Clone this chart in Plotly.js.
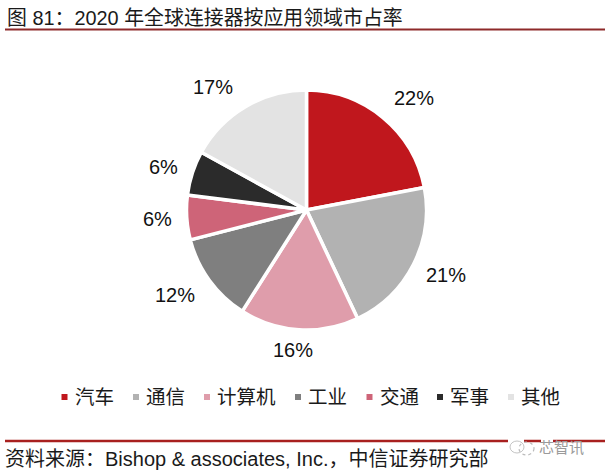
<!DOCTYPE html>
<html><head><meta charset="utf-8">
<script src="https://cdn.plot.ly/plotly-3.0.1.min.js"></script>
<style>html,body{margin:0;padding:0;background:#fff}#c{width:605px;height:474px}</style></head>
<body><div id="c"></div>
<script>
const categories = ["汽车","通信","计算机","工业","交通","军事","其他"];
const shares = [22,21,16,12,6,6,17];
const colors = ["#C0171D","#B2B2B2","#DF9DAB","#7F7F7F","#CE6478","#2B2B2B","#E3E3E3"];
const titleText = "图 81：2020 年全球连接器按应用领域市占率";
const sourceText = "资料来源：Bishop & associates, Inc.，中信证券研究部";
const watermark = "芯智讯";

const W = 605, H = 474;
const CJK = '"Liberation Sans","Noto Sans CJK SC",sans-serif';
const labelAt = [[414,98],[446,275],[293,350],[175,295],[157,219],[163,167],[213,87]];
const swatchAt = [64.5,136,207,298,369.5,440,511];
const px = x => x / W, py = y => 1 - y / H;

const annotations = [];
const txt = (text, x, y, size, color, anchor) => ({
  text, x: px(x), y: py(y), xref: 'paper', yref: 'paper', showarrow: false,
  xanchor: anchor || 'left', yanchor: 'middle',
  font: {family: CJK, size, color}
});
annotations.push(txt(titleText, 4.5, 18, 19.9, '#1a1a1a'));
annotations.push(txt(sourceText, 3, 459, 20, '#1a1a1a'));
annotations.push(txt(watermark, 537, 447, 15, '#9a9a9a'));
shares.forEach((v,i) => annotations.push(txt(v + '%', labelAt[i][0], labelAt[i][1], 20, '#111', 'center')));
categories.forEach((c,i) => annotations.push(txt(c, swatchAt[i] + 8, 397, 19.5, '#1a1a1a')));

const shapes = [
  {type:'line', xref:'paper', yref:'paper', x0:px(5), x1:1, y0:py(29.5), y1:py(29.5), line:{color:'#8E2A2A', width:2}},
  {type:'line', xref:'paper', yref:'paper', x0:px(5), x1:1, y0:py(441), y1:py(441), line:{color:'#A8201F', width:2.5}},
  {type:'rect', xref:'paper', yref:'paper', x0:px(508), x1:px(524), y0:py(439), y1:py(443), fillcolor:'#fff', line:{width:0}},
  {type:'rect', xref:'paper', yref:'paper', x0:px(541), x1:px(553), y0:py(439), y1:py(443), fillcolor:'#fff', line:{width:0}},
  {type:'circle', xref:'paper', yref:'paper', x0:px(510), x1:px(524), y0:py(441), y1:py(453), line:{color:'#c4c4c4', width:1}},
  {type:'circle', xref:'paper', yref:'paper', x0:px(519), x1:px(534), y0:py(442), y1:py(455), line:{color:'#bbbbbb', width:1.2, dash:'dot'}}
];
categories.forEach((c,i) => shapes.push({
  type:'rect', xref:'paper', yref:'paper',
  x0:px(swatchAt[i]-3), x1:px(swatchAt[i]+3), y0:py(394), y1:py(400),
  fillcolor:colors[i], line:{width:0}
}));

const cx = 306.5, cy = 210, r = 120;
Plotly.newPlot('c', [{
  type:'pie', labels:categories, values:shares, sort:false, direction:'clockwise', rotation:0,
  textinfo:'none', hoverinfo:'label+percent', showlegend:false,
  domain:{x:[px(cx-r), px(cx+r)], y:[py(cy+r), py(cy-r)]},
  marker:{colors:colors, line:{color:'#ffffff', width:3.5}}
}], {
  width:W, height:H, margin:{l:0,r:0,t:0,b:0}, paper_bgcolor:'#fff', showlegend:false,
  annotations, shapes
}, {displayModeBar:false});
</script></body></html>
